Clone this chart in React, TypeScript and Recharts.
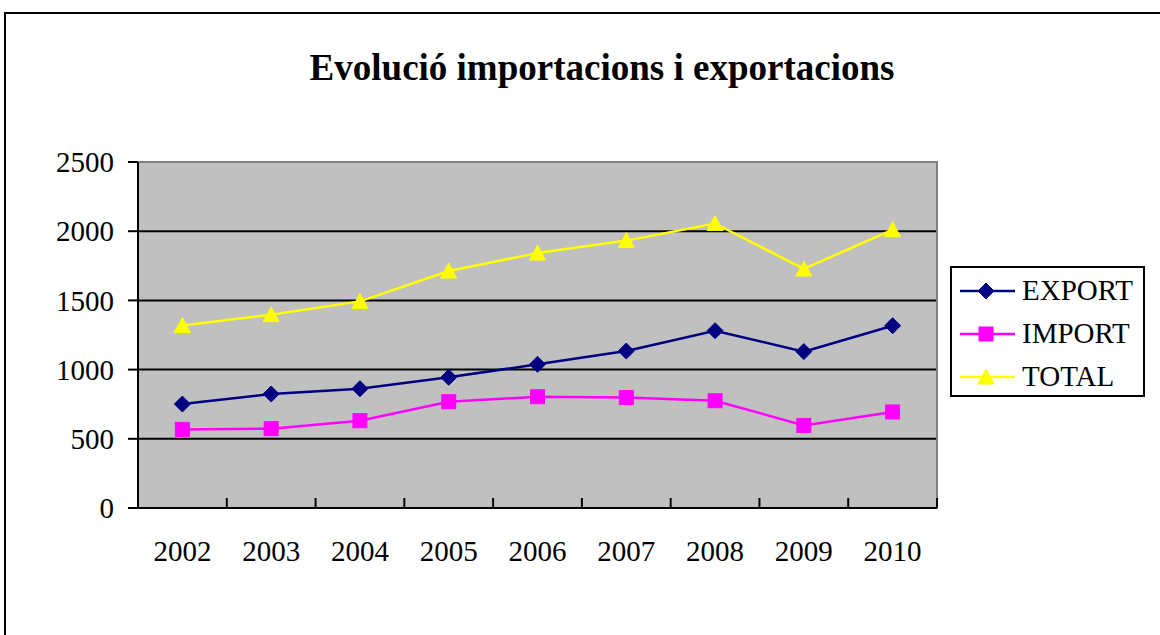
import React from 'react';
import { LineChart, Line, XAxis, YAxis, CartesianGrid, ReferenceArea } from 'recharts';

const years = ['2002', '2003', '2004', '2005', '2006', '2007', '2008', '2009', '2010'];
const exportValues = [751, 824, 862, 944, 1038, 1134, 1281, 1130, 1317];
const importValues = [568, 573, 631, 768, 804, 798, 775, 597, 694];
const totalValues = [1319, 1397, 1493, 1712, 1842, 1932, 2056, 1727, 2011];
const yTicks = [0, 500, 1000, 1500, 2000, 2500];
const seriesKeys = ['EXPORT', 'IMPORT', 'TOTAL'];

const data = years.map((year, i) => ({
  year,
  EXPORT: exportValues[i],
  IMPORT: importValues[i],
  TOTAL: totalValues[i],
}));

const FONT = '"Liberation Serif", "Times New Roman", serif';

const Diamond = ({ cx, cy, color }: any) => (
  <polygon points={`${cx},${cy - 8} ${cx + 8},${cy} ${cx},${cy + 8} ${cx - 8},${cy}`} fill={color} stroke={color} />
);
const Square = ({ cx, cy, color }: any) => (
  <rect x={cx - 7} y={cy - 7} width={14} height={14} fill={color} stroke={color} />
);
const Triangle = ({ cx, cy, color }: any) => (
  <polygon points={`${cx},${cy - 8} ${cx + 8},${cy + 7} ${cx - 8},${cy + 7}`} fill={color} stroke={color} />
);

const markers: Record<string, any> = { EXPORT: Diamond, IMPORT: Square, TOTAL: Triangle };
const colors: Record<string, string> = { EXPORT: '#000080', IMPORT: '#ff00ff', TOTAL: '#ffff00' };

const makeDot = (key: string) => (props: any) => {
  const Shape = markers[key];
  return <Shape key={`${key}-${props.index}`} cx={props.cx} cy={props.cy} color={colors[key]} />;
};

// category labels at band centres, tick marks on the band boundaries (inside the plot)
const YearTick = (props: any) => {
  const { x, y, payload, width, visibleTicksCount } = props;
  const bw = width / visibleTicksCount;
  const axisY = y - 8;
  return (
    <g>
      <line x1={x + bw / 2} x2={x + bw / 2} y1={axisY - 10} y2={axisY} stroke="#000" strokeWidth={2} />
      <text x={x} y={axisY + 53} textAnchor="middle" fontFamily={FONT} fontSize={29} fill="#000">
        {payload.value}
      </text>
    </g>
  );
};

const LegendBox = () => (
  <div
    style={{
      position: 'absolute', left: 950, top: 266, width: 195, height: 131, boxSizing: 'border-box',
      border: '2px solid #000', background: '#fff', paddingTop: 1, fontFamily: FONT, fontSize: 29, color: '#000',
    }}
  >
    {seriesKeys.map((key) => {
      const Shape = markers[key];
      return (
        <div key={key} style={{ display: 'flex', alignItems: 'center', height: 43 }}>
          <svg width={70} height={20} style={{ display: 'block' }}>
            <line x1={8} x2={63} y1={10} y2={10} stroke={colors[key]} strokeWidth={2.5} />
            <Shape cx={34} cy={10} color={colors[key]} />
          </svg>
          <span style={{ lineHeight: '29px' }}>{key}</span>
        </div>
      );
    })}
  </div>
);

export default function App() {
  return (
    <div style={{ position: 'relative', width: 1160, height: 635, overflow: 'hidden', background: '#fff' }}>
      <style>{'body{margin:0}'}</style>
      <div style={{ position: 'absolute', left: 4, top: 12, width: 1300, height: 800, border: '2px solid #000' }} />
      <div
        style={{
          position: 'absolute', left: 0, width: 1204, top: 46, textAlign: 'center',
          fontFamily: FONT, fontWeight: 'bold', fontSize: 37, color: '#000',
        }}
      >
        Evolució importacions i exportacions
      </div>
      <div style={{ position: 'absolute', left: 0, top: 0 }}>
        <LineChart width={1160} height={635} data={data} margin={{ top: 162, right: 223, bottom: 87, left: 38 }}>
          <CartesianGrid vertical={false} stroke="#000" strokeWidth={2} fill="#c0c0c0" fillOpacity={1} />
          <ReferenceArea y1={0} y2={2500} fill="none" stroke="#808080" strokeWidth={2} />
          <XAxis
            dataKey="year"
            scale="band"
            height={40}
            axisLine={{ stroke: '#000', strokeWidth: 2 }}
            tickLine={false}
            tickSize={8}
            tickMargin={0}
            tick={<YearTick />}
            interval={0}
          />
          <YAxis
            width={100}
            domain={[0, 2500]}
            ticks={yTicks}
            axisLine={{ stroke: '#000', strokeWidth: 2 }}
            tickLine={{ stroke: '#000', strokeWidth: 2 }}
            tickSize={10}
            tickMargin={14}
            tick={{ fontFamily: FONT, fontSize: 29, fill: '#000' }}
          />
          {seriesKeys.map((key) => (
            <Line
              key={key}
              type="linear"
              dataKey={key}
              stroke={colors[key]}
              strokeWidth={2.5}
              dot={makeDot(key)}
              activeDot={false}
              isAnimationActive={false}
            />
          ))}
        </LineChart>
      </div>
      <LegendBox />
    </div>
  );
}
